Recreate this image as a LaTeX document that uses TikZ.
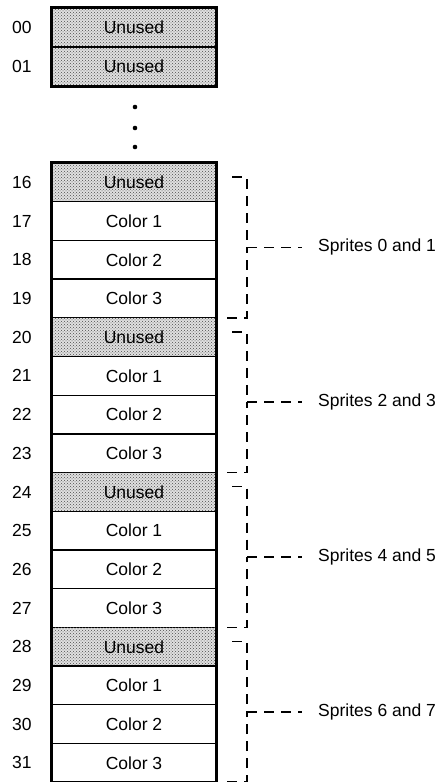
\documentclass[tikz,border=0pt]{standalone}
\usepackage{fontspec}
\setmainfont{Liberation Sans}
\usetikzlibrary{patterns}
\begin{document}
\begin{tikzpicture}[x=1pt,y=-1pt,
  cell/.style={draw=black,line width=1.3pt,minimum width=164pt,minimum height=38.7pt,inner sep=0pt,font=\fontsize{17.5}{20}\selectfont},
  unused/.style={cell,fill=black!12,postaction={pattern=crosshatch dots,pattern color=black!70}},
  num/.style={anchor=west,inner sep=0pt,font=\fontsize{17.5}{20}\selectfont},
  lab/.style={anchor=west,inner sep=2pt,font=\fontsize{17.5}{20}\selectfont},
  dsh/.style={line width=1.7pt,dash pattern=on 10pt off 7pt}]
\useasboundingbox (0,0) rectangle (444,782);
% top block
\node[unused,minimum height=39pt] (r00) at (134,27.5) {Unused};
\node[unused,minimum height=39pt] (r01) at (134,66.5) {Unused};
\draw[line width=3pt] (r00.north west) rectangle (r01.south east);
\node[num] (n00) at (12,27.5) {00};
\node[num] (n01) at (12,66.5) {01};
% dots
\fill (135,107) circle (2.3pt);
\fill (135,128) circle (2.3pt);
\fill (135,147) circle (2.3pt);
% lower block
\def\hh{38.7}
\foreach \i in {0,...,15}{
  \pgfmathsetmacro{\yc}{163+(\i+0.5)*\hh}
  \pgfmathtruncatemacro{\nn}{16+\i}
  \pgfmathtruncatemacro{\mm}{mod(\i,4)}
  \ifnum\mm=0
    \node[unused] (r\nn) at (134,\yc) {Unused};
  \else
    \node[cell] (r\nn) at (134,\yc) {Color \mm};
  \fi
  \node[num] (n\nn) at (12,\yc) {\nn};
}
\draw[line width=3pt] (r16.north west) rectangle (r31.south east);
% brackets
\foreach \g/\a/\b in {0/0/1,1/2/3,2/4/5,3/6/7}{
  \pgfmathsetmacro{\tp}{163+4*\g*\hh+14}
  \pgfmathsetmacro{\bt}{163+4*(\g+1)*\hh}
  \pgfmathsetmacro{\md}{(\tp+\bt)/2}
  \coordinate (ta\g) at (232,\tp);
  \coordinate (tb\g) at (247,\tp);
  \coordinate (bb\g) at (247,\bt);
  \coordinate (ba\g) at (227,\bt);
  \coordinate (m\g) at (247,\md);
  \node[lab] (s\g) at (316,\md) {Sprites \a\ and \b};
  \draw[dsh] (ta\g) -- (tb\g) -- (m\g);
  \draw[dsh] (ba\g) -- (bb\g) -- (m\g);
  \draw[dsh,shorten >=14pt] (m\g) -- (s\g.west);
}
\end{tikzpicture}
\end{document}
